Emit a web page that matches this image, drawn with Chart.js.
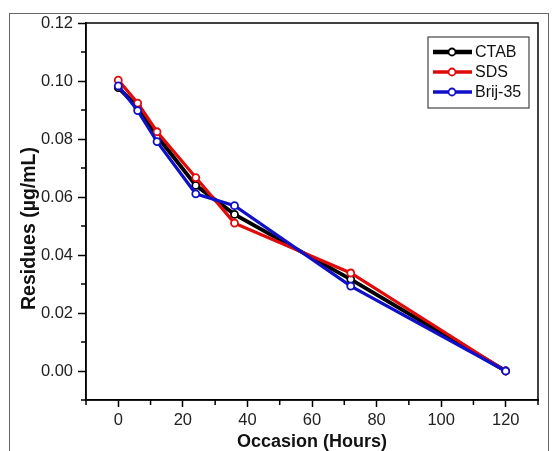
<!DOCTYPE html>
<html>
<head>
<meta charset="utf-8">
<script src="https://cdn.jsdelivr.net/npm/chart.js@4.4.0/dist/chart.umd.min.js"></script>
<style>
  body { margin: 0; background: #fff; }
  #wrap { position: relative; width: 552px; height: 451px; overflow: hidden; }
  #frame { position: absolute; left: 9px; top: 13px; width: 538px; height: 460px; border: 1px solid #666; }
  #chart { position: absolute; left: 0; top: 0; }
</style>
</head>
<body>
<div id="wrap">
  <div id="frame"></div>
  <canvas id="chart" width="552" height="451"></canvas>
</div>
<script>
// data
const hours = [0, 6, 12, 24, 36, 72, 120];
const ctab = [0.0977, 0.0910, 0.0810, 0.0640, 0.0540, 0.0316, 0];
const sds = [0.1003, 0.0924, 0.0825, 0.0667, 0.0510, 0.0338, 0];
const brij = [0.0983, 0.0898, 0.0791, 0.0611, 0.0570, 0.0293, 0];

const xTicks = [0, 20, 40, 60, 80, 100, 120];
const xMinor = [-10, 10, 30, 50, 70, 90, 110, 130];
const yTicks = [0, 0.02, 0.04, 0.06, 0.08, 0.10, 0.12];
const yMinor = [-0.01, 0.01, 0.03, 0.05, 0.07, 0.09, 0.11];

const yTitle = "Residues (µg/mL)";
const FONT = "'Liberation Sans', Arial, sans-serif";

function series(label, values, color, width, order) {
  return {
    label: label,
    data: hours.map((h, i) => ({ x: h, y: values[i] })),
    borderColor: color,
    borderWidth: width,
    pointRadius: 3.5,
    pointBorderWidth: 1.8,
    pointBackgroundColor: "#fff",
    pointBorderColor: color,
    tension: 0,
    order: order,
  };
}

// frame, minor ticks, y title and legend box
const extras = {
  id: "extras",
  afterDraw(chart) {
    const ctx = chart.ctx;
    const a = chart.chartArea;
    const xs = chart.scales.x;
    const ys = chart.scales.y;
    ctx.save();
    ctx.strokeStyle = "#000";
    ctx.lineWidth = 1.5;
    ctx.strokeRect(a.left, a.top, a.right - a.left, a.bottom - a.top);

    ctx.beginPath();
    xMinor.forEach((v) => {
      const px = xs.getPixelForValue(v);
      ctx.moveTo(px, a.bottom);
      ctx.lineTo(px, a.bottom + 5);
    });
    yMinor.forEach((v) => {
      const py = ys.getPixelForValue(v);
      ctx.moveTo(a.left, py);
      ctx.lineTo(a.left - 5, py);
    });
    ctx.stroke();

    // y axis title, sits a bit below the plot centre in the original
    ctx.save();
    ctx.translate(30, (a.top + a.bottom) / 2 + 17);
    ctx.rotate(-Math.PI / 2);
    ctx.font = "bold 19.5px " + FONT;
    ctx.textAlign = "center";
    ctx.textBaseline = "middle";
    ctx.fillStyle = "#111";
    ctx.fillText(yTitle, 0, 0);
    ctx.restore();

    // legend
    const bx = a.right - 110;
    const by = a.top + 14;
    ctx.lineWidth = 1.2;
    ctx.strokeStyle = "#444";
    ctx.strokeRect(bx, by, 101, 71);
    ctx.font = "16px " + FONT;
    ctx.textBaseline = "middle";
    chart.data.datasets.forEach((ds, i) => {
      const ry = by + 15 + i * 20;
      ctx.strokeStyle = ds.borderColor;
      ctx.lineWidth = ds.borderWidth + 0.5;
      ctx.beginPath();
      ctx.moveTo(bx + 5, ry);
      ctx.lineTo(bx + 44, ry);
      ctx.stroke();
      ctx.beginPath();
      ctx.arc(bx + 24, ry, 3.5, 0, Math.PI * 2);
      ctx.fillStyle = "#fff";
      ctx.fill();
      ctx.lineWidth = 1.8;
      ctx.stroke();
      ctx.fillStyle = "#111";
      ctx.fillText(ds.label, bx + 47, ry + 1);
    });
    ctx.restore();
  },
};

new Chart(document.getElementById("chart"), {
  type: "line",
  data: {
    datasets: [
      series("CTAB", ctab, "#000000", 4, 3),
      series("SDS", sds, "#e00a0a", 3.2, 2),
      series("Brij-35", brij, "#1010c8", 3.2, 1),
    ],
  },
  plugins: [extras],
  options: {
    responsive: false,
    animation: false,
    devicePixelRatio: 1,
    layout: { padding: { top: 23, right: 14, left: 0, bottom: 0 } },
    plugins: { legend: { display: false }, tooltip: { enabled: false } },
    scales: {
      x: {
        type: "linear",
        min: -10,
        max: 130,
        afterFit: (s) => { s.height = 51; },
        afterBuildTicks: (s) => { s.ticks = xTicks.map((v) => ({ value: v })); },
        grid: { drawOnChartArea: false, tickLength: 7, tickColor: "#000", tickWidth: 1.5 },
        border: { color: "#000", width: 1.5 },
        ticks: { color: "#222", padding: 4, font: { family: FONT, size: 16.5 }, maxRotation: 0 },
        title: {
          display: true,
          text: "Occasion (Hours)",
          color: "#111",
          font: { family: FONT, size: 18, weight: "bold", lineHeight: 1 },
          padding: { top: 0, bottom: 0 },
        },
      },
      y: {
        type: "linear",
        min: -0.01,
        max: 0.12,
        afterFit: (s) => { s.width = 86; },
        afterBuildTicks: (s) => { s.ticks = yTicks.map((v) => ({ value: v })); },
        grid: { drawOnChartArea: false, tickLength: 8, tickColor: "#000", tickWidth: 1.5 },
        border: { color: "#000", width: 1.5 },
        ticks: {
          color: "#222",
          padding: 5,
          font: { family: FONT, size: 16.5 },
          callback: (v) => v.toFixed(2),
        },
      },
    },
  },
});
</script>
</body>
</html>
